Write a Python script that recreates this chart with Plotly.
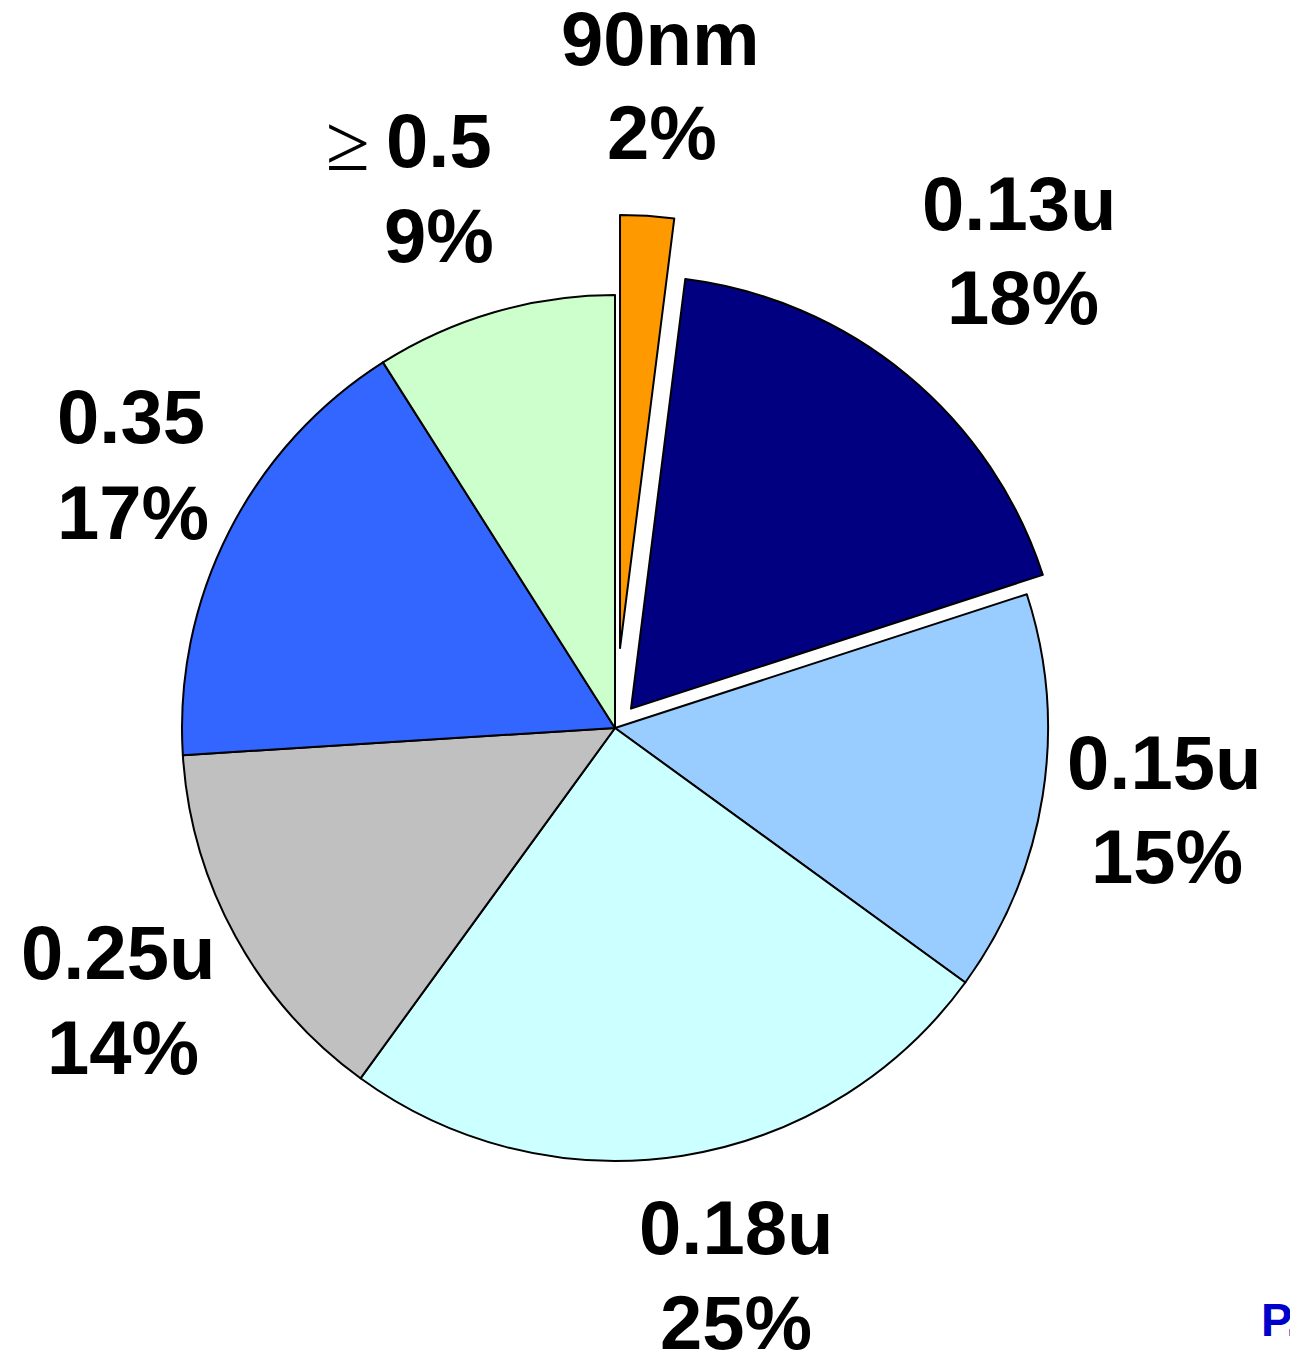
import plotly.graph_objects as go

labels = ["90nm", "0.13u", "0.15u", "0.18u", "0.25u", "0.35", "≥0.5"]
values = [2, 18, 15, 25, 14, 17, 9]
colors = ["#FF9900", "#000080", "#99CCFF", "#CCFFFF", "#C0C0C0", "#3366FF", "#CCFFCC"]
pulls = [0.185, 0.058, 0, 0, 0, 0, 0]

W, H = 1298, 1353
OFF = 8  # page body margin
cx, cy, r = 615 - OFF, 728 - OFF, 433
half = r * (1 + max(pulls))

fig = go.Figure(go.Pie(
    labels=labels, values=values, sort=False, direction="clockwise", rotation=0,
    pull=pulls, textinfo="none", hoverinfo="label+percent",
    marker=dict(colors=colors, line=dict(color="black", width=2)),
    domain=dict(x=[(cx - half) / W, (cx + half) / W],
                y=[(H - cy - half) / H, (H - cy + half) / H]),
    showlegend=False,
))

# (x centre, cap-centre y) of the name line and the percentage line, page px
label_pos = {
    "90nm": ((660, 38), (662, 132)),
    "0.13u": ((1019, 203), (1023, 297)),
    "0.15u": ((1164, 762), (1167, 857)),
    "0.18u": ((736, 1227), (736, 1322)),
    "0.25u": ((118, 952), (123, 1047)),
    "0.35": ((131, 417), (133, 512)),
    "≥0.5": ((439, 141), (439, 236)),
}
FS = 76
bold = dict(family="Liberation Sans, Arial, sans-serif", size=FS, color="black")


def add_text(txt, px, py, font, xanchor="center"):
    fig.add_annotation(x=(px - OFF) / W, y=1 - (py - OFF) / H, xref="paper", yref="paper",
                       text=txt, showarrow=False, xanchor=xanchor, yanchor="middle",
                       font=font)


for lab, val in zip(labels, values):
    (x1, y1), (x2, y2) = label_pos[lab]
    if lab.startswith("≥"):
        add_text(lab[0], 348, 143,
                 dict(family="Liberation Serif, Times New Roman, serif", size=80, color="black"))
        add_text("<b>" + lab[1:] + "</b>", x1, y1, bold)
    else:
        add_text("<b>" + lab + "</b>", x1, y1, bold)
    add_text("<b>" + f"{val}%" + "</b>", x2, y2, bold)

add_text("<b>P.</b>", 1251 + OFF, 1319,
         dict(family="Liberation Sans, Arial, sans-serif", size=47, color="#0000CC"),
         xanchor="left")

fig.update_layout(width=W, height=H, margin=dict(l=0, r=0, t=0, b=0),
                  paper_bgcolor="white", plot_bgcolor="white")
fig.write_html("out.html")
